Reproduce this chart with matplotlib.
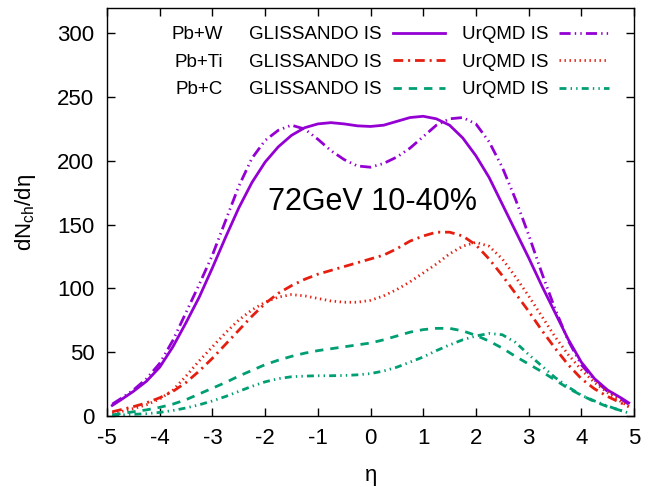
import matplotlib
matplotlib.use("Agg")
import matplotlib.pyplot as plt
from matplotlib.lines import Line2D

plt.rcParams['font.family'] = ['Liberation Sans', 'DejaVu Sans']
plt.rcParams['mathtext.fontset'] = 'custom'
plt.rcParams['mathtext.rm'] = 'Liberation Sans'
plt.rcParams['mathtext.it'] = 'Liberation Sans'
plt.rcParams['mathtext.default'] = 'regular'
plt.rcParams['lines.scale_dashes'] = False

# ---------------- data ----------------
eta = [-4.9, -4.75, -4.5, -4.25, -4.0, -3.75, -3.5, -3.25, -3.0, -2.75, -2.5, -2.25,
       -2.0, -1.75, -1.5, -1.25, -1.0, -0.75, -0.5, -0.25, 0.0, 0.25, 0.5, 0.75,
       1.0, 1.25, 1.5, 1.75, 2.0, 2.25, 2.5, 2.75, 3.0, 3.25, 3.5, 3.75, 4.0,
       4.25, 4.5, 4.75, 4.9]

pbw_glissando = [8, 12, 19, 27, 38, 54, 73, 93, 116, 140, 163, 183,
                 199, 211, 220, 226, 229, 230, 229, 227.5, 227, 228, 231, 234,
                 235, 233, 228, 218, 204, 187, 166, 145, 124, 102, 81, 60, 42,
                 29, 20, 14, 10]
pbw_urqmd = [9, 13, 20, 29, 41, 59, 81, 103, 126, 153, 180, 202,
             216, 224, 228, 225, 217, 208, 201, 196, 195, 198, 203, 210,
             219, 228, 233, 234, 229, 215, 195, 170, 142, 112, 84, 59, 40,
             28, 19, 13, 9]
pbti_glissando = [3, 4.5, 7, 10, 14, 19, 26, 35, 45, 56, 67, 78,
                  88, 96, 102, 107, 111, 114, 117, 120, 123, 126, 131, 137,
                  141, 144, 144, 141, 134, 123, 110, 96, 82, 67, 53, 40, 29,
                  21, 15, 10, 7]
pbti_urqmd = [2, 3, 5.5, 8.5, 13, 20, 31, 43, 54, 65, 75, 83,
              89, 93, 95, 94, 92, 90, 89, 89, 90.5, 94, 99, 105,
              112, 119, 127, 133, 136, 133, 123, 109, 94, 78, 62, 48, 36,
              26, 18, 11, 7]
pbc_glissando = [0.5, 1.5, 3, 4.5, 6.5, 9, 12.5, 17, 21.5, 26, 31, 35.5,
                 40, 43.5, 46.5, 49, 51, 52.5, 54, 55.5, 57, 59.5, 62.5, 65.5,
                 67.5, 68.5, 68.5, 66.5, 63, 58.5, 53, 46.5, 40.5, 34.5, 28, 21.5, 16,
                 11, 7, 4, 2.5]
pbc_urqmd = [0, 0.5, 1, 1.5, 2.5, 4, 6, 8.5, 11.5, 15, 19, 23,
             26.5, 29, 30.5, 31, 31.3, 31.3, 31.5, 32, 33, 35, 38, 42,
             46, 51, 55.5, 59.5, 62.5, 64.5, 63.5, 57.5, 48, 39, 30, 22.5, 16,
             11.5, 7.5, 4, 2]

systems = ['Pb+W', 'Pb+Ti', 'Pb+C']
model_labels = ['GLISSANDO IS', 'UrQMD IS']
xticks = [-5, -4, -3, -2, -1, 0, 1, 2, 3, 4, 5]
yticks = [0, 50, 100, 150, 200, 250, 300]

# ---------------- styles ----------------
PURPLE = '#9400d3'
RED = '#e51e10'
GREEN = '#009e73'
LW = 2.0
styles = [
    (PURPLE, '-'),
    (PURPLE, (0, (8, 3, 1, 3, 1, 3))),
    (RED, (0, (7, 3.5, 1.5, 3.5))),
    (RED, (0, (1, 2.6))),
    (GREEN, (0, (6, 5))),
    (GREEN, (0, (5, 3, 1, 3, 1, 3))),
]
series = [pbw_glissando, pbw_urqmd, pbti_glissando, pbti_urqmd,
          pbc_glissando, pbc_urqmd]

W, H = 657, 487
fig = plt.figure(figsize=(W / 100, H / 100), dpi=100)
L, R, T, B = 107, 634, 8, 415.6
ax = fig.add_axes([L / W, (H - B) / H, (R - L) / W, (B - T) / H])

for (c, ls), y in zip(styles, series):
    ax.plot(eta, y, color=c, linestyle=ls, linewidth=LW,
            solid_joinstyle='round', dash_joinstyle='round')

ax.set_xlim(-5, 5)
ax.set_ylim(0, 320)
ax.set_xticks(xticks)
ax.set_yticks(yticks)
ax.set_xticklabels([str(v) for v in xticks])
ax.set_yticklabels([str(v) for v in yticks])
ax.tick_params(direction='in', length=6, width=1, top=True, right=True,
               labelsize=16, pad=9)
for s in ax.spines.values():
    s.set_linewidth(1.0)

# annotation
ax.text((372 - L) / (R - L), (B - 210) / (B - T), '72GeV 10-40%',
        transform=ax.transAxes, ha='center', va='baseline', fontsize=22)

# key (gnuplot-like)
def fx(px):
    return (px - L) / (R - L)

def fy(py):
    return (B - py) / (B - T)

rows_y = [32.8, 60.2, 87.8]
for i, sysname in enumerate(systems):
    yl = rows_y[i]
    ax.text(fx(223), fy(yl + 6.5), sysname, transform=ax.transAxes,
            ha='right', va='baseline', fontsize=13.5)
    ax.text(fx(382), fy(yl + 6.5), model_labels[0], transform=ax.transAxes,
            ha='right', va='baseline', fontsize=13.5)
    ax.text(fx(548), fy(yl + 6.5), model_labels[1], transform=ax.transAxes,
            ha='right', va='baseline', fontsize=13.5)
    c1, ls1 = styles[2 * i]
    c2, ls2 = styles[2 * i + 1]
    ax.add_line(Line2D([fx(393), fx(445)], [fy(yl), fy(yl)], transform=ax.transAxes,
                       color=c1, linestyle=ls1, linewidth=LW))
    ax.add_line(Line2D([fx(559), fx(609)], [fy(yl), fy(yl)], transform=ax.transAxes,
                       color=c2, linestyle=ls2, linewidth=LW))

# axis labels
fig.text(25 / W, 1 - 212 / H, r'dN$_{ch}$/dη', rotation=90,
         ha='center', va='center', fontsize=16)
fig.text(371 / W, (H - 481) / H, 'η', ha='center', va='baseline', fontsize=16)

fig.savefig('out.png', dpi=100)
